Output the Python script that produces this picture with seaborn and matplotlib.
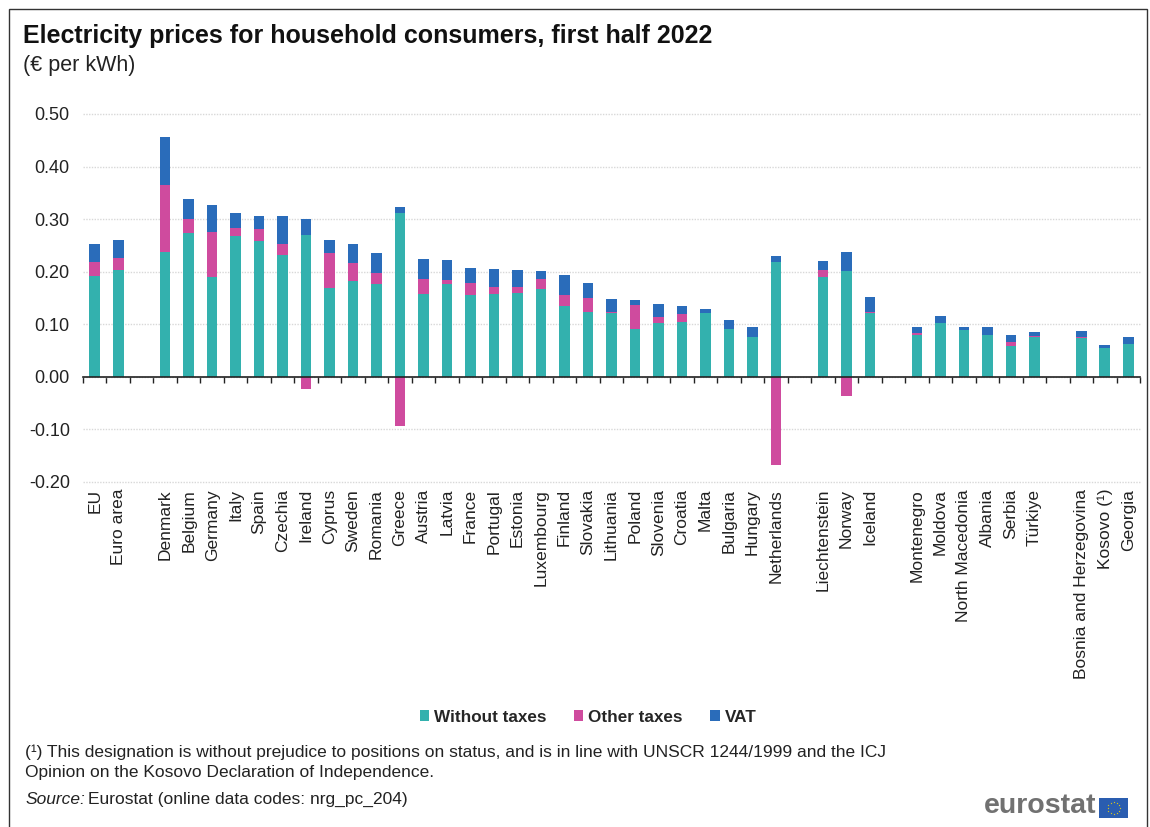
import matplotlib
matplotlib.use("Agg")
import matplotlib.pyplot as plt
import seaborn as sns
import pandas as pd
import numpy as np
from matplotlib.patches import Rectangle, Patch

# ---------------- data ----------------
countries = ["EU", "Euro area", "Denmark", "Belgium", "Germany", "Italy", "Spain",
             "Czechia", "Ireland", "Cyprus", "Sweden", "Romania", "Greece", "Austria",
             "Latvia", "France", "Portugal", "Estonia", "Luxembourg", "Finland",
             "Slovakia", "Lithuania", "Poland", "Slovenia", "Croatia", "Malta",
             "Bulgaria", "Hungary", "Netherlands", "Liechtenstein", "Norway", "Iceland",
             "Montenegro", "Moldova", "North Macedonia", "Albania", "Serbia", "Türkiye",
             "Bosnia and Herzegovina", "Kosovo (¹)", "Georgia"]
without_taxes = [0.192, 0.204, 0.237, 0.274, 0.190, 0.267, 0.258, 0.232, 0.269, 0.169,
                 0.183, 0.177, 0.311, 0.158, 0.177, 0.155, 0.158, 0.159, 0.168, 0.134,
                 0.124, 0.121, 0.091, 0.102, 0.105, 0.122, 0.091, 0.075, 0.219, 0.190,
                 0.201, 0.121, 0.079, 0.103, 0.089, 0.079, 0.058, 0.075, 0.073, 0.055,
                 0.063]
other_taxes = [0.026, 0.023, 0.127, 0.026, 0.086, 0.016, 0.023, 0.021, -0.024, 0.066,
               0.034, 0.020, -0.094, 0.029, 0.008, 0.023, 0.013, 0.012, 0.019, 0.022,
               0.026, 0.002, 0.045, 0.012, 0.014, 0.000, 0.000, 0.000, -0.168, 0.013,
               -0.037, 0.003, 0.005, 0.000, 0.000, 0.000, 0.009, 0.003, 0.003, 0.000,
               0.000]
vat = [0.034, 0.034, 0.092, 0.038, 0.051, 0.029, 0.025, 0.053, 0.031, 0.025,
       0.035, 0.039, 0.013, 0.037, 0.038, 0.030, 0.035, 0.033, 0.014, 0.038,
       0.028, 0.026, 0.011, 0.024, 0.016, 0.008, 0.018, 0.019, 0.010, 0.017,
       0.036, 0.028, 0.011, 0.013, 0.005, 0.015, 0.013, 0.008, 0.012, 0.006,
       0.012]
gap_after = ["Euro area", "Netherlands", "Iceland", "Türkiye"]
series_names = ["Without taxes", "Other taxes", "VAT"]
y_ticks = [-0.20, -0.10, 0.00, 0.10, 0.20, 0.30, 0.40, 0.50]

TEAL, PINK, BLUE = "#33b1ae", "#cf4b9e", "#2a6cba"

# ---------------- build table ----------------
order = []
g = 0
for c in countries:
    order.append(c)
    if c in gap_after:
        g += 1
        order.append(f"_gap{g}")

df = pd.DataFrame({"country": countries, "base": without_taxes,
                   "other": other_taxes, "vat": vat})
df["pos_other"] = df["other"].clip(lower=0)
df["neg_other"] = df["other"].clip(upper=0)
df["top_pink"] = df["base"] + df["pos_other"]
df["top_blue"] = df["top_pink"] + df["vat"]

sns.set_theme(style="white")
plt.rcParams["font.family"] = ["Liberation Sans", "DejaVu Sans"]
plt.rcParams["axes.unicode_minus"] = False

fig = plt.figure(figsize=(11.5, 8.27), dpi=100)
ax = fig.add_axes([83 / 1150, 1 - 482 / 827, (1140 - 83) / 1150, (482 - 114) / 827])

W = 0.45
common = dict(data=df, x="country", order=order, width=W, errorbar=None,
              ax=ax, linewidth=0, saturation=1)
sns.barplot(y="top_blue", color=BLUE, **common)
sns.barplot(y="top_pink", color=PINK, **common)
sns.barplot(y="base", color=TEAL, **common)
sns.barplot(y="neg_other", color=PINK, **common)

ax.set_xlim(-0.5, len(order) - 0.5)
ax.set_ylim(-0.20, 0.50)
ax.set_xlabel("")
ax.set_ylabel("")

# y axis
ax.set_yticks(y_ticks)
ax.set_yticklabels([f"{v:.2f}" for v in y_ticks], fontsize=13, color="#222222")
ax.tick_params(axis="y", length=0, pad=9.5)
ax.yaxis.grid(True, color="#d8d8d8", linestyle=(0, (1, 1)), linewidth=1)
for gl in ax.get_ygridlines():
    gl.set_clip_on(False)
ax.set_axisbelow(True)

# x axis at zero, boundary ticks
for s in ["left", "right", "top"]:
    ax.spines[s].set_visible(False)
ax.spines["bottom"].set_position(("data", 0))
ax.spines["bottom"].set_color("#222222")
ax.spines["bottom"].set_linewidth(1.2)
ax.set_xticks(np.arange(-0.5, len(order), 1))
ax.set_xticklabels([])
ax.tick_params(axis="x", bottom=True, length=4, width=1, color="#222222", direction="out")

for i, name in enumerate(order):
    if name.startswith("_gap"):
        continue
    ax.annotate(name, xy=(i, 0), xycoords=("data", "axes fraction"),
                xytext=(0, -5), textcoords="offset points", rotation=90,
                ha="center", va="top", fontsize=12.5, color="#222222")

# titles
fig.text(23 / 1150, 1 - 36 / 827, "Electricity prices for household consumers, first half 2022",
         fontsize=18, fontweight="bold", va="center", ha="left", color="#111111")
fig.text(23 / 1150, 1 - 66 / 827, "(€ per kWh)", fontsize=15.5, va="center", ha="left",
         color="#222222")

# legend
handles = [Patch(facecolor=c, edgecolor="none") for c in (TEAL, PINK, BLUE)]
fig.legend(handles, series_names, loc="center", bbox_to_anchor=(588 / 1150, 1 - 717 / 827),
           ncol=3, frameon=False, prop={"weight": "bold", "size": 12.3},
           handlelength=0.55, handleheight=0.55, handletextpad=0.3, columnspacing=1.6)

# footnotes
FS = 12.5
fig.text(25 / 1150, 1 - 752 / 827,
         "(¹) This designation is without prejudice to positions on status, and is in line with UNSCR 1244/1999 and the ICJ",
         fontsize=FS, va="center", ha="left", color="#222222")
fig.text(25 / 1150, 1 - 773 / 827, "Opinion on the Kosovo Declaration of Independence.",
         fontsize=FS, va="center", ha="left", color="#222222")
t = fig.text(25 / 1150, 1 - 799 / 827, "Source:", fontsize=FS, style="italic",
             va="center", ha="left", color="#222222")
fig.canvas.draw()
bb = t.get_window_extent()
fig.text((bb.x1 + 3) / 1150, 1 - 799 / 827, "Eurostat (online data codes: nrg_pc_204)",
         fontsize=FS, va="center", ha="left", color="#222222")

# eurostat logo
fig.text(1096 / 1150, 1 - 806 / 827, "eurostat", fontsize=20.5, fontweight="bold",
         color="#717171", ha="right", va="center")
flag = fig.add_axes([1099 / 1150, 1 - 818 / 827, 29 / 1150, 20 / 827])
flag.set_xlim(0, 29)
flag.set_ylim(0, 20)
flag.add_patch(Rectangle((0, 0), 29, 20, facecolor="#2a5db0", edgecolor="none"))
ang = np.linspace(0, 2 * np.pi, 12, endpoint=False)
flag.scatter(14.5 + 6 * np.cos(ang), 10 + 6 * np.sin(ang), s=2, color="#ffdd00",
             marker="*", linewidths=0)
flag.axis("off")

# frame
fig.patches.append(Rectangle((9 / 1150, -0.01), (1147 - 9) / 1150, 1 - 9 / 827 + 0.01,
                             transform=fig.transFigure, fill=False,
                             edgecolor="#333333", linewidth=1))

fig.savefig("out.png", dpi=100)
